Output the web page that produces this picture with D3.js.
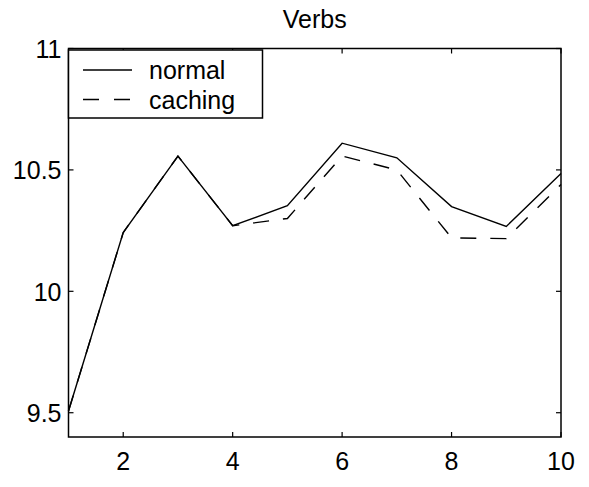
<!DOCTYPE html>
<html><head><meta charset="utf-8">
<script src="https://cdn.jsdelivr.net/npm/d3@7"></script>
<style>
html,body{margin:0;padding:0;background:#fff;}
text{font-family:"Liberation Sans",Arial,Helvetica,sans-serif;fill:#000;}
</style></head>
<body>
<svg id="c" width="589" height="487"></svg>
<script>
const xs = [1,2,3,4,5,6,7,8,9,10];
const normal  = [9.507,10.242,10.557,10.27,10.353,10.61,10.55,10.349,10.267,10.485];
const caching = [9.507,10.242,10.557,10.27,10.30,10.557,10.50,10.22,10.217,10.44];
const xTicks = [2,4,6,8,10];
const yTicks = [9.5,10,10.5,11];
const seriesNames = ["normal","caching"];
const title = "Verbs";

const svg = d3.select("#c");
const L=68.5, R=561, T=48.5, B=437;
const x = d3.scaleLinear().domain([1,10]).range([L,R]);
const y = d3.scaleLinear().domain([9.4,11]).range([B,T]);
const fs = 25;

// lines
const line = d3.line().x((d,i)=>x(xs[i])).y(d=>y(d));
svg.append("path").datum(normal).attr("d",line).attr("fill","none").attr("stroke","#000").attr("stroke-width",1.4);
svg.append("path").datum(caching).attr("d",line).attr("fill","none").attr("stroke","#000").attr("stroke-width",1.4).attr("stroke-dasharray","16,14");

// axes box
const g = svg.append("g");
g.append("rect").attr("x",L).attr("y",T).attr("width",R-L).attr("height",B-T).attr("fill","none").attr("stroke","#000").attr("stroke-width",1.5);

// ticks (inward, mirrored)
const tl = 5;
xTicks.forEach(v=>{
  g.append("line").attr("x1",x(v)).attr("x2",x(v)).attr("y1",B).attr("y2",B-tl).attr("stroke","#000").attr("stroke-width",1.2);
  g.append("line").attr("x1",x(v)).attr("x2",x(v)).attr("y1",T).attr("y2",T+tl).attr("stroke","#000").attr("stroke-width",1.2);
  svg.append("text").attr("x",x(v)).attr("y",470).attr("text-anchor","middle").attr("font-size",fs).text(v);
});
yTicks.forEach(v=>{
  g.append("line").attr("x1",L).attr("x2",L+tl).attr("y1",y(v)).attr("y2",y(v)).attr("stroke","#000").attr("stroke-width",1.2);
  g.append("line").attr("x1",R).attr("x2",R-tl).attr("y1",y(v)).attr("y2",y(v)).attr("stroke","#000").attr("stroke-width",1.2);
  svg.append("text").attr("x",L-7).attr("y",y(v)+9.5).attr("text-anchor","end").attr("font-size",fs).text(v);
});

// title
svg.append("text").attr("x",(L+R)/2).attr("y",28).attr("text-anchor","middle").attr("font-size",fs).text(title);

// legend
const lg = svg.append("g");
lg.append("rect").attr("x",L).attr("y",T+1.5).attr("width",194).attr("height",68).attr("fill","#fff").attr("stroke","#000").attr("stroke-width",1.5);
const ly = [70,99.5];
seriesNames.forEach((n,i)=>{
  lg.append("line").attr("x1",83).attr("x2",132).attr("y1",ly[i]).attr("y2",ly[i]).attr("stroke","#000").attr("stroke-width",1.4)
    .attr("stroke-dasharray", i===1 ? "16,15" : null);
  lg.append("text").attr("x",149).attr("y",ly[i]+9).attr("font-size",fs).text(n);
});
</script>
</body></html>
